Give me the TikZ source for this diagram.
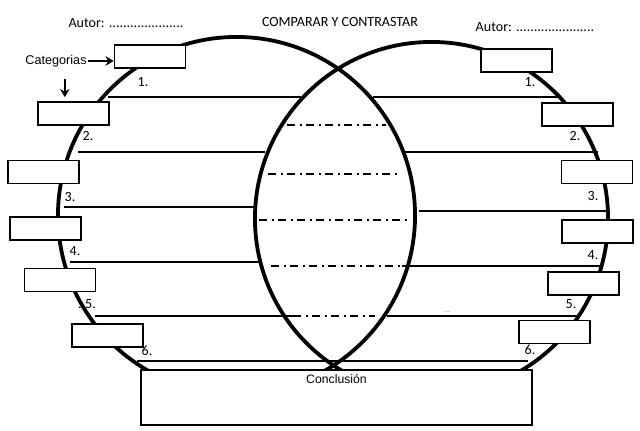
\documentclass[tikz,border=0pt]{standalone}
\usepackage{fontspec}
\setmainfont{Carlito}
\newfontfamily\arialfont{Liberation Sans}
\usetikzlibrary{arrows.meta,positioning}
\tikzset{catbox/.style={draw,fill=white,line width=1.3pt,minimum width=1.775cm,minimum height=0.575cm,inner sep=0pt},
  ring/.style={line width=2.7pt},
  row/.style={line width=1pt},
  dashrow/.style={line width=1pt,dash pattern=on 6pt off 3pt on 1.5pt off 3pt},
  num/.style={font=\fontsize{10}{11}\selectfont,inner sep=0pt},
  head/.style={font=\fontsize{10}{12}\selectfont,inner sep=0pt},
  arr/.style={-{Stealth[length=2mm,width=2.4mm]},line width=1.3pt}}

\begin{document}
\begin{tikzpicture}[x=0.025cm,y=-0.025cm]
\useasboundingbox (0,0) rectangle (640,431);
\draw[ring] (236.5,215.5) circle(4.4625cm);
\draw[ring] (431.5,218.5) circle(4.4125cm);
% left rows
\draw[row] (108,97)--(301,97);
\draw[row] (78,152)--(265,152);
\draw[row] (64,207)--(255,207);
\draw[row] (70,262)--(262,262);
\draw[row] (95,316)--(293,316);
\draw[row] (137,361)--(528,361);
% right rows
\draw[row] (373,97)--(560,97);
\draw[row] (405,152)--(598,152);
\draw[row] (419,211)--(608,211);
\draw[row] (402,266)--(600,266);
\draw[row] (387,316)--(577,316);
% middle
\draw[dashrow] (287,125)--(386,125);
\draw[dashrow] (268,174)--(400,174);
\draw[dashrow] (259,220)--(408,220);
\draw[dashrow] (271,266)--(402,266);
\draw[dashrow] (293,316)--(375,316);
\node[inner sep=0pt,font=\fontsize{5}{6}\selectfont,gray] (dots) at (447,312) {...};
% boxes
\node[catbox] (lb1) at (150,56.5) {};
\node[catbox] (lb2) at (73.5,113.5) {};
\node[catbox] (lb3) at (43.5,172) {};
\node[catbox] (lb4) at (45.5,228.5) {};
\node[catbox] (lb5) at (60,280) {};
\node[catbox] (lb6) at (107.5,335.5) {};
\node[catbox] (rb1) at (516.5,60.5) {};
\node[catbox] (rb2) at (577.5,114.5) {};
\node[catbox] (rb3) at (597,172) {};
\node[catbox] (rb4) at (597.5,231.5) {};
\node[catbox] (rb5) at (583.5,283.5) {};
\node[catbox] (rb6) at (554.5,332) {};
\node[num] at (143,82) {1.};
\node[num] at (88,136) {2.};
\node[num] at (70,197) {3.};
\node[num] at (75,251) {4.};
\node[num] at (87,304) {..5.};
\node[num] at (147,351) {6.};
\node[num] at (530,82) {1.};
\node[num] at (575,136) {2.};
\node[num] at (593,196) {3.};
\node[num] at (593,255) {4.};
\node[num] at (571,304) {5.};
\node[num] at (530,350) {6.};
% conclusion
\node[draw,fill=white,line width=1.3pt,minimum width=9.775cm,minimum height=1.375cm,inner sep=0pt] (concl) at (336.5,397.5) {};
\node[below=0.12cm of concl.north,inner sep=0pt,font=\arialfont\fontsize{8.7}{10}\selectfont] (conctext) {Conclusión};
% headings
\node[head] (autl) at (126,23) {Autor: .....................};
\node[head] (title) at (340,22) {COMPARAR Y CONTRASTAR};
\node[head] (autr) at (535,27) {Autor: ......................};
\node[inner sep=0pt,font=\arialfont\fontsize{9}{10}\selectfont] (cat) at (56,61) {Categorias};
\draw[arr] ([xshift=1pt]cat.east) -- (lb1.west |- cat.east);
\draw[arr] ([xshift=0.22cm,yshift=-0.3cm]cat.south) -- ([xshift=0.22cm,yshift=0.1cm]cat.south |- lb2.north);
\end{tikzpicture}
\end{document}
